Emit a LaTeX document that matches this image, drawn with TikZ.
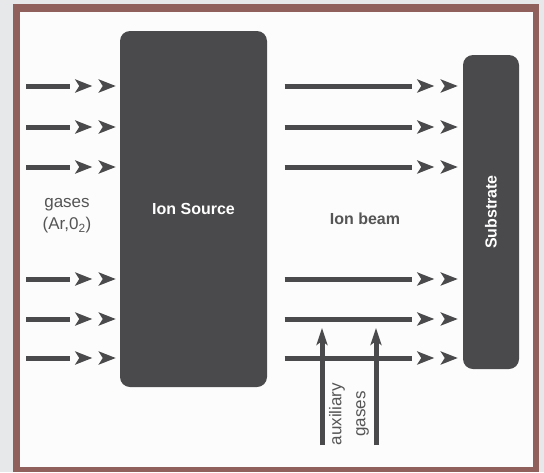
\documentclass[tikz,border=0pt]{standalone}
\usepackage{fontspec}
\setmainfont{Liberation Sans}
\usetikzlibrary{arrows.meta, positioning}
\definecolor{cDark}{RGB}{74,74,76}
\definecolor{cText}{RGB}{85,85,85}
\definecolor{cFrame}{RGB}{143,96,92}
\definecolor{cPage}{RGB}{230,232,234}
\definecolor{cPanel}{RGB}{252,252,252}
\tikzset{
	srcbox/.style ={rectangle, rounded corners=10pt, fill=cDark, text=white, inner sep=0pt, font=\fontsize{16}{19}\selectfont\bfseries},
	lbl/.style    ={text=cText, align=center, inner sep=0pt, font=\fontsize{17}{22}\selectfont},
	% double stealth heads at the end of each stream
	headpair/.style={-{. _[sep=5pt] Stealth[length=17pt, width=13pt, inset=4pt, sep=6.5pt] Stealth[length=17pt, width=13pt, inset=4pt]}},
	flowline/.style={draw=cDark, line width=5pt, headpair},
	auxline/.style ={draw=cDark, line width=5pt, -{Stealth[length=17pt, width=11pt, inset=4pt]}},
}
\begin{document}
\begin{tikzpicture}[x=1pt, y=-1pt]
	\useasboundingbox (0,0) rectangle (544,472);
	\fill[cPage] (0,0) rectangle (544,472);
	\fill[cFrame] (12.5,4) rectangle (539,472);
	\fill[cPanel] (19.5,12) rectangle (532.5,467);
	\node[srcbox, minimum width=147pt, minimum height=356pt] (src) at (193.5,209) {Ion Source};
	\node[srcbox, minimum width=314pt, minimum height=56pt, rotate=90] (sub) at (491,212) {Substrate};
	\node[lbl] (gas) at (67,216) {gases\\(Ar,0\textsubscript{2})};
	\node[lbl, font=\fontsize{16}{19}\selectfont\bfseries] (beam) at (365,219) {Ion beam};
	\node[lbl, rotate=90, font=\fontsize{17}{24}\selectfont] (aux) at (349,414) {auxiliary\\gases};
	% incoming gas streams
	\coordinate (g1) at (26,86);
	\coordinate (g2) at (26,127);
	\coordinate (g3) at (26,167);
	\coordinate (g4) at (26,279);
	\coordinate (g5) at (26,319);
	\coordinate (g6) at (26,358);
	\draw[flowline, shorten >=4pt] (g1) -- (g1 -| src.west);
	\draw[flowline, shorten >=4pt] (g2) -- (g2 -| src.west);
	\draw[flowline, shorten >=4pt] (g3) -- (g3 -| src.west);
	\draw[flowline, shorten >=4pt] (g4) -- (g4 -| src.west);
	\draw[flowline, shorten >=4pt] (g5) -- (g5 -| src.west);
	\draw[flowline, shorten >=4pt] (g6) -- (g6 -| src.west);
	% ion beam
	\coordinate (b1) at (284.5,86);
	\coordinate (b2) at (284.5,127);
	\coordinate (b3) at (284.5,167);
	\coordinate (b4) at (284.5,279);
	\coordinate (b5) at (284.5,319);
	\coordinate (b6) at (284.5,358);
	\draw[flowline, shorten >=5pt] (b1) -- (b1 -| sub.north);
	\draw[flowline, shorten >=5pt] (b2) -- (b2 -| sub.north);
	\draw[flowline, shorten >=5pt] (b3) -- (b3 -| sub.north);
	\draw[flowline, shorten >=5pt] (b4) -- (b4 -| sub.north);
	\draw[flowline, shorten >=5pt] (b5) -- (b5 -| sub.north);
	\draw[flowline, shorten >=5pt] (b6) -- (b6 -| sub.north);
	% auxiliary gas feed
	\coordinate (a1) at (322,445);
	\coordinate (a2) at (376,445);
	\draw[auxline, shorten >=9pt] (a1) -- (a1 |- b5);
	\draw[auxline, shorten >=9pt] (a2) -- (a2 |- b5);
\end{tikzpicture}
\end{document}
